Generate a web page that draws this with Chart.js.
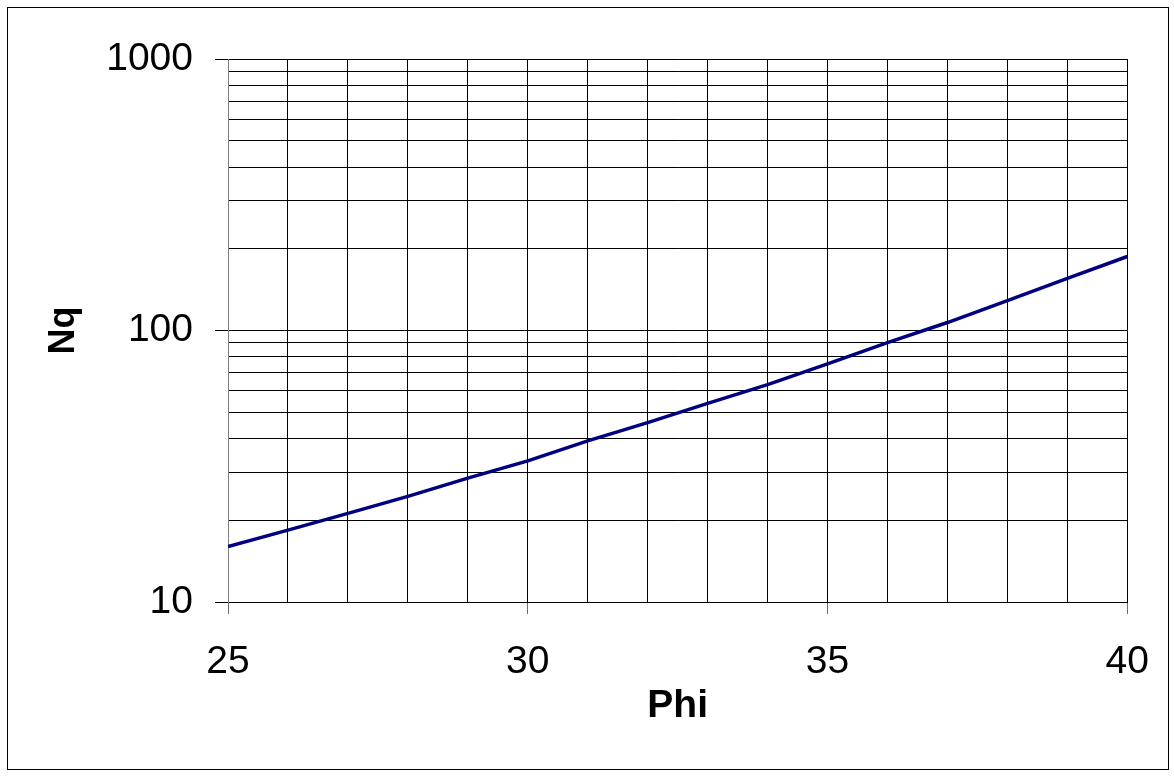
<!DOCTYPE html>
<html>
<head>
<meta charset="utf-8">
<script src="https://cdn.jsdelivr.net/npm/chart.js@4/dist/chart.umd.min.js"></script>
<style>
    body { margin: 0; background: #fff; }
    #box { width: 1174px; height: 776px; }
</style>
</head>
<body>
<div id="box"><canvas id="nqChart" width="1174" height="776"></canvas></div>
<script>
// Phi (deg) and Nq
const phi = [25, 26, 27, 28, 29, 30, 31, 32, 33, 34, 35, 36, 37, 38, 39, 40];
const nq = [16.0, 18.4, 21.2, 24.5, 28.6, 33.1, 39.2, 45.8, 53.9, 63.2, 75.3, 90.2, 107, 128.8, 155.7, 187.3];

const xTicks = [25, 26, 27, 28, 29, 30, 31, 32, 33, 34, 35, 36, 37, 38, 39, 40];
const xLabels = [25, 30, 35, 40];
const yTicks = [10, 20, 30, 40, 50, 60, 70, 80, 90, 100, 200, 300, 400, 500, 600, 700, 800, 900, 1000];
const yLabels = [10, 100, 1000];

const framePlugin = {
    id: 'frame',
    afterDraw(chart) {
        const ctx = chart.ctx;
        ctx.save();
        ctx.strokeStyle = '#000';
        ctx.lineWidth = 1;
        ctx.strokeRect(7.5, 7.5, 1161, 762);
        ctx.restore();
    }
};

const nqChart = document.getElementById('nqChart');

new Chart(nqChart, {
    type: 'line',
    data: {
        datasets: [{
            label: 'Nq',
            data: phi.map((p, i) => ({ x: p, y: nq[i] })),
            borderColor: '#000080',
            borderWidth: 3.5,
            pointRadius: 0,
            tension: 0,
            fill: false
        }]
    },
    options: {
        responsive: false,
        animation: false,
        layout: {
            padding: { left: 8, top: 59, right: 46, bottom: 8 }
        },
        scales: {
            x: {
                type: 'linear',
                min: 25,
                max: 40,
                afterBuildTicks: (scale) => { scale.ticks = xTicks.map(v => ({ value: v })); },
                afterFit: (scale) => { scale.height = 776 - 8 - 602; },
                ticks: {
                    autoSkip: false,
                    maxRotation: 0,
                    padding: 25,
                    color: '#000',
                    font: { family: 'Liberation Sans', size: 39 },
                    callback: (v) => xLabels.includes(v) ? String(v) : ''
                },
                grid: {
                    color: '#000',
                    lineWidth: 1,
                    tickLength: 12,
                    tickColor: (ctx) => xLabels.includes(xTicks[ctx.index]) ? '#6e6e6e' : 'rgba(0,0,0,0)'
                },
                border: { color: '#000', width: 1 },
                title: {
                    display: true,
                    text: 'Phi',
                    color: '#000',
                    font: { family: 'Liberation Sans', size: 39, weight: 'bold' },
                    padding: { top: 0, bottom: 38 }
                }
            },
            y: {
                type: 'logarithmic',
                min: 10,
                max: 1000,
                afterBuildTicks: (scale) => { scale.ticks = yTicks.map(v => ({ value: v })); },
                afterFit: (scale) => { scale.width = 228 - 8; },
                ticks: {
                    autoSkip: false,
                    padding: 22,
                    color: '#000',
                    font: { family: 'Liberation Sans', size: 39 },
                    callback: (v) => yLabels.includes(v) ? String(v) : ''
                },
                grid: {
                    color: '#000',
                    lineWidth: 1,
                    tickLength: 13,
                    tickColor: (ctx) => yLabels.includes(yTicks[ctx.index]) ? '#000' : 'rgba(0,0,0,0)'
                },
                border: { color: '#808080', width: 1 },
                title: {
                    display: true,
                    text: 'Nq',
                    color: '#000',
                    font: { family: 'Liberation Sans', size: 36, weight: 'bold' },
                    padding: { top: 34, bottom: 0 }
                }
            }
        },
        plugins: {
            legend: { display: false },
            title: { display: false },
            tooltip: { enabled: false }
        }
    },
    plugins: [framePlugin]
});
</script>
</body>
</html>
